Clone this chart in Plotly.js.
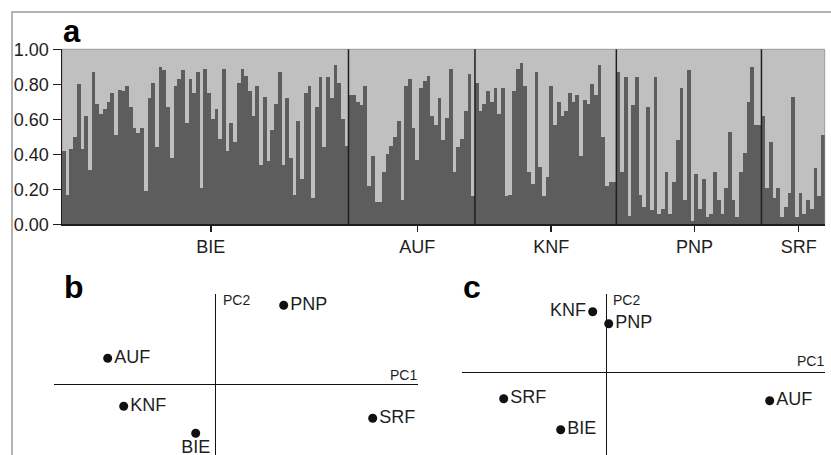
<!DOCTYPE html>
<html><head><meta charset="utf-8">
<script src="https://cdn.plot.ly/plotly-3.0.1.min.js"></script>
<style>html,body{margin:0;padding:0;background:#fff;}#chart{width:831px;height:455px;}</style>
</head><body><div id="chart"></div>
<script>
// ---- Panel a: membership proportions (cluster 1) per individual ----
const groups = ['BIE', 'AUF', 'KNF', 'PNP', 'SRF'];
const bie = [0.42, 0.17, 0.43, 0.50, 0.80, 0.43, 0.62, 0.31, 0.87, 0.69, 0.63, 0.66, 0.70, 0.75, 0.51, 0.77,
  0.76, 0.79, 0.67, 0.55, 0.52, 0.55, 0.19, 0.72, 0.81, 0.44, 0.90, 0.88, 0.67, 0.38, 0.79, 0.83, 0.88, 0.58,
  0.83, 0.75, 0.87, 0.21, 0.89, 0.75, 0.60,
  0.66, 0.49, 0.89, 0.42, 0.58, 0.47, 0.81, 0.89, 0.85, 0.76, 0.62, 0.79, 0.34, 0.73, 0.36, 0.54, 0.69, 0.87,
  0.34, 0.72, 0.38, 0.17, 0.59, 0.26, 0.75, 0.79, 0.15, 0.67, 0.84, 0.44, 0.84, 0.72, 0.91, 0.81, 0.60, 0.45];
const auf = [0.74, 0.74, 0.70, 0.68, 0.79, 0.22, 0.39, 0.13, 0.13, 0.30, 0.40, 0.45, 0.50, 0.59, 0.14, 0.79,
  0.83, 0.55, 0.37, 0.78, 0.82, 0.85, 0.62, 0.57, 0.72, 0.48, 0.61, 0.89, 0.30, 0.44, 0.49, 0.65, 0.86, 0.16];
const knf = [0.81, 0.65, 0.69, 0.76, 0.70, 0.78, 0.63, 0.78, 0.16, 0.17, 0.76, 0.89, 0.92, 0.79, 0.30, 0.23,
  0.87, 0.33, 0.16, 0.27, 0.79, 0.57, 0.70, 0.62, 0.65, 0.75, 0.70, 0.74, 0.39, 0.71, 0.69, 0.80, 0.74, 0.91,
  0.50, 0.22, 0.24, 0.24];
const pnp = [0.87, 0.30, 0.84, 0.05, 0.68, 0.84, 0.17, 0.10, 0.67, 0.08, 0.84, 0.06, 0.09, 0.30, 0.06, 0.24,
  0.48, 0.78, 0.14, 0.88, 0.02, 0.29, 0.09, 0.26, 0.04, 0.06, 0.30, 0.14, 0.06, 0.21, 0.53, 0.14, 0.04, 0.30,
  0.41, 0.70, 0.90, 0.57, 0.57];
const srf = [0.62, 0.21, 0.47, 0.15, 0.21, 0.04, 0.10, 0.18, 0.73, 0.04, 0.18, 0.06, 0.14, 0.09, 0.32, 0.16, 0.51];
const yTicks = [0, 0.2, 0.4, 0.6, 0.8, 1.0];

// ---- Panel b / c: PCA coordinates (arbitrary units) ----
const bLabels = ['PNP', 'AUF', 'KNF', 'SRF', 'BIE'];
const bPC1 = [0.68, -1.08, -0.92, 1.57, -0.20];
const bPC2 = [0.79, 0.26, -0.22, -0.34, -0.49];
const cLabels = ['KNF', 'PNP', 'SRF', 'BIE', 'AUF'];
const cPC1 = [-0.14, 0.02, -1.03, -0.46, 1.63];
const cPC2 = [0.61, 0.49, -0.26, -0.57, -0.28];

// ---------------------------------------------------------------
const W = 831, H = 455;
const fx = p => p / W, fy = p => 1 - p / H;
const FONT = 'Liberation Sans, Arial, Helvetica, sans-serif';
const INK = '#1e1e1e';

const series = [bie, auf, knf, pnp, srf];
const vals = [].concat(...series);
const N = vals.length;
const idx = vals.map((_, i) => i);
const starts = [];
let acc = 0;
series.forEach(s => { starts.push(acc); acc += s.length; });
const tickvals = series.map((s, k) => starts[k] + (s.length - 1) / 2 + 1.5);

const shapes = [
  // figure frame (top and left edges visible)
  {type: 'rect', xref: 'paper', yref: 'paper', x0: fx(12), x1: 1.3, y0: -0.3, y1: fy(12),
   line: {color: '#9c9c9c', width: 1.5}, fillcolor: 'rgba(0,0,0,0)'},
  // panel a background (second cluster)
  {type: 'rect', xref: 'x domain', yref: 'y domain', x0: 0, x1: 1, y0: 0, y1: 1,
   fillcolor: '#c0c0c0', line: {color: '#9a9a9a', width: 1}, layer: 'below'}
];
starts.slice(1).forEach(s => shapes.push({
  type: 'line', xref: 'x', yref: 'y domain', x0: s - 0.5, x1: s - 0.5, y0: 0, y1: 1,
  line: {color: INK, width: 1.5}, layer: 'above'
}));

const traces = [
  {type: 'bar', x: idx, y: vals, xaxis: 'x', yaxis: 'y',
   marker: {color: '#5d5d5d', line: {width: 0}}, hoverinfo: 'skip'},
  {type: 'scatter', mode: 'markers+text', x: bPC1, y: bPC2, text: bLabels, xaxis: 'x2', yaxis: 'y2',
   textposition: ['middle right', 'middle right', 'middle right', 'middle right', 'bottom center'],
   marker: {size: 9, color: '#111'}, textfont: {size: 18, color: INK, family: FONT}, hoverinfo: 'skip',
   cliponaxis: false},
  {type: 'scatter', mode: 'markers+text', x: cPC1, y: cPC2, text: cLabels, xaxis: 'x3', yaxis: 'y3',
   textposition: ['middle left', 'middle right', 'middle right', 'middle right', 'middle right'],
   marker: {size: 9, color: '#111'}, textfont: {size: 18, color: INK, family: FONT}, hoverinfo: 'skip',
   cliponaxis: false}
];

const hidden = {showgrid: false, showticklabels: false, ticks: '', showline: false,
  zeroline: true, zerolinecolor: '#111', zerolinewidth: 1.5, fixedrange: true};

const ann = (text, x, y, xa, size, bold) => ({
  text: bold ? '<b>' + text + '</b>' : text, xref: 'paper', yref: 'paper', x: fx(x), y: fy(y),
  xanchor: xa, yanchor: 'middle', showarrow: false,
  font: {family: bold ? 'Liberation Sans, Arial, sans-serif' : FONT, size: size, color: bold ? '#000' : INK}
});

const layout = {
  width: W, height: H, autosize: false,
  margin: {l: 0, r: 0, t: 0, b: 0},
  paper_bgcolor: '#fff', plot_bgcolor: 'rgba(0,0,0,0)',
  showlegend: false, bargap: 0,
  font: {family: FONT, color: INK},
  xaxis: {domain: [fx(62), fx(824.7)], range: [-0.5, N - 0.5], anchor: 'y',
    showline: true, linecolor: INK, linewidth: 1.5, ticks: 'outside', ticklen: 6, tickwidth: 1.5,
    tickcolor: INK, tickvals: tickvals, ticktext: groups, tickfont: {size: 18, family: FONT, color: INK},
    showgrid: false, zeroline: false, fixedrange: true},
  yaxis: {domain: [fy(224.3), fy(49.3)], range: [0, 1], anchor: 'x',
    showline: true, linecolor: INK, linewidth: 1.5, ticks: 'outside', ticklen: 8, tickwidth: 1.5,
    tickcolor: INK, tickvals: yTicks, tickformat: '.2f', tickfont: {size: 18, family: FONT, color: INK},
    showgrid: false, zeroline: false, fixedrange: true},
  xaxis2: Object.assign({domain: [fx(54.3), fx(418)], range: [-1.614, 2.023], anchor: 'y2'}, hidden),
  yaxis2: Object.assign({domain: [0, fy(294)], range: [-0.707, 0.903], anchor: 'x2'}, hidden),
  xaxis3: Object.assign({domain: [fx(461.7), fx(825)], range: [-1.45, 2.183], anchor: 'y3'}, hidden),
  yaxis3: Object.assign({domain: [0, fy(294)], range: [-0.823, 0.787], anchor: 'x3'}, hidden),
  shapes: shapes,
  annotations: [
    ann('a', 61, 32, 'left', 31, true),
    ann('b', 62, 287, 'left', 32, true),
    ann('c', 461, 287, 'left', 32, true),
    ann('PC2', 221, 300, 'left', 14, false),
    ann('PC1', 419, 375, 'right', 14, false),
    ann('PC2', 611, 300, 'left', 14, false),
    ann('PC1', 826, 361, 'right', 14, false)
  ]
};

Plotly.newPlot('chart', traces, layout, {displayModeBar: false, staticPlot: true});
</script>
</body></html>
